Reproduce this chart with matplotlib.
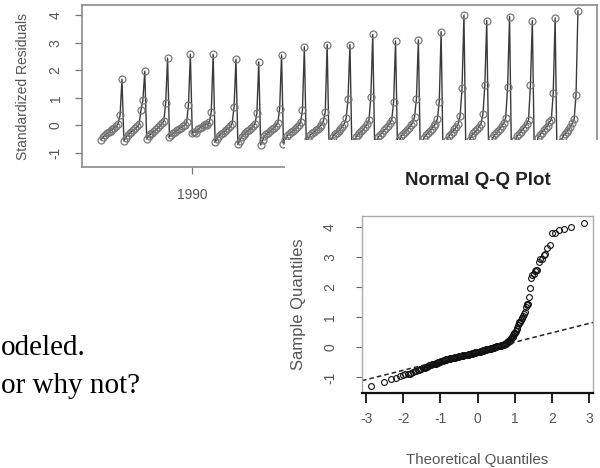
import numpy as np
import matplotlib
matplotlib.use("Agg")
import matplotlib.pyplot as plt
from matplotlib.patches import Rectangle
from statistics import NormalDist

# ---------------- data: monthly standardized residuals (Jan..Dec) ----------------
start_year = 1986
r1986 = [-0.52, -0.44, -0.36, -0.30, -0.26, -0.21, -0.15, -0.09, -0.03, 0.05, 0.36, 1.67]
r1987 = [-0.56, -0.45, -0.35, -0.30, -0.24, -0.18, -0.11, -0.04, 0.03, 0.55, 0.90, 1.96]
r1988 = [-0.50, -0.40, -0.33, -0.27, -0.21, -0.15, -0.08, 0.00, 0.07, 0.14, 0.80, 2.44]
r1989 = [-0.42, -0.34, -0.29, -0.24, -0.19, -0.14, -0.09, -0.04, 0.01, 0.10, 0.73, 2.58]
r1990 = [-0.30, -0.24, -0.27, -0.15, -0.10, -0.06, 0.00, 0.04, 0.02, 0.12, 0.48, 2.58]
r1991 = [-0.62, -0.50, -0.38, -0.32, -0.27, -0.22, -0.16, -0.10, -0.03, 0.06, 0.66, 2.40]
r1992 = [-0.70, -0.56, -0.42, -0.34, -0.28, -0.22, -0.16, -0.10, -0.02, 0.04, 0.43, 2.30]
r1993 = [-0.72, -0.55, -0.40, -0.33, -0.27, -0.21, -0.15, -0.09, -0.02, 0.07, 0.60, 2.55]
r1994 = [-0.68, -0.52, -0.38, -0.31, -0.26, -0.20, -0.14, -0.07, 0.00, 0.10, 0.55, 2.85]
r1995 = [-0.64, -0.50, -0.36, -0.30, -0.25, -0.19, -0.13, -0.06, 0.02, 0.15, 0.48, 2.93]
r1996 = [-0.76, -0.58, -0.41, -0.33, -0.27, -0.20, -0.13, -0.05, 0.05, 0.25, 0.97, 2.93]
r1997 = [-0.84, -0.62, -0.44, -0.35, -0.28, -0.21, -0.14, -0.06, 0.03, 0.18, 1.03, 3.30]
r1998 = [-0.80, -0.60, -0.42, -0.34, -0.27, -0.19, -0.11, -0.03, 0.07, 0.20, 0.85, 3.06]
r1999 = [-0.74, -0.55, -0.39, -0.31, -0.24, -0.17, -0.10, -0.01, 0.09, 0.30, 0.97, 3.10]
r2000 = [-0.90, -0.66, -0.46, -0.36, -0.28, -0.21, -0.13, -0.04, 0.06, 0.22, 0.85, 3.40]
r2001 = [-1.16, -0.87, -0.54, -0.40, -0.31, -0.23, -0.15, -0.06, 0.05, 0.35, 1.34, 4.00]
r2002 = [-1.02, -0.78, -0.52, -0.38, -0.30, -0.22, -0.14, -0.05, 0.06, 0.40, 1.45, 3.80]
r2003 = [-0.95, -0.72, -0.48, -0.36, -0.28, -0.20, -0.12, -0.03, 0.08, 0.28, 1.40, 3.95]
r2004 = [-1.06, -0.82, -0.55, -0.40, -0.31, -0.23, -0.15, -0.06, 0.04, 0.18, 1.45, 3.80]
r2005 = [-0.88, -0.68, -0.47, -0.35, -0.27, -0.19, -0.11, -0.02, 0.10, 0.20, 1.17, 3.90]
r2006 = [-1.30, -0.93, -0.60, -0.42, -0.32, -0.24, -0.16, -0.06, 0.07, 0.22, 1.10, 4.15]

top_yticks = [-1, 0, 1, 2, 3, 4]
top_xticks = [1990]          # later year ticks are covered by the inset
qq_xticks = [-3, -2, -1, 0, 1, 2, 3]
qq_yticks = [-1, 0, 1, 2, 3, 4]
side_text_1 = "odeled."
side_text_2 = "or why not?"

residuals = np.concatenate([r1986, r1987, r1988, r1989, r1990, r1991, r1992,
                            r1993, r1994, r1995, r1996, r1997, r1998, r1999,
                            r2000, r2001, r2002, r2003, r2004, r2005, r2006])
n = len(residuals)
times = start_year + np.arange(n) / 12.0

# ---------------- figure ----------------
W, H = 600, 468
fig = plt.figure(figsize=(W / 100, H / 100), dpi=100)
plt.rcParams['font.family'] = ['Liberation Sans', 'DejaVu Sans']

def fx(px):
    return px / W

def fy(py):
    return 1 - py / H

gray_txt = '#555555'

# ---- top: standardized residuals time series ----
ax1 = fig.add_axes([fx(82), fy(167), (597 - 82) / W, (167 - 5) / H])
ax1.plot(times, residuals, '-', color='#3a3a3a', lw=1.0, zorder=2)
ax1.plot(times, residuals, 'o', ms=5.0, mfc='none', mec='#777777', mew=0.9, zorder=3)
xr = times[-1] - times[0]
ax1.set_xlim(times[0] - 0.04 * xr, times[-1] + 0.04 * xr)
yr = residuals.max() - residuals.min()
ax1.set_ylim(residuals.min() - 0.04 * yr, residuals.max() + 0.04 * yr)
ax1.set_yticks(top_yticks)
ax1.set_yticklabels([str(v) for v in top_yticks], rotation=90, va='center')
ax1.set_xticks(top_xticks)
ax1.set_xticklabels([str(v) for v in top_xticks])
ax1.tick_params(direction='out', length=5, width=0.9, color='#777777',
                labelcolor=gray_txt, labelsize=10)
ax1.tick_params(axis='y', pad=9)
ax1.tick_params(axis='x', pad=10)
for s in ax1.spines.values():
    s.set_color('#8a8a8a')
    s.set_linewidth(1.2)
ax1.set_ylabel('Standardized Residuals', fontsize=10, color=gray_txt, va='center')
ax1.yaxis.set_label_coords((23 - 82) / (597 - 82), 0.5)

# ---- white patch under the inset Q-Q plot ----
fig.add_artist(Rectangle((fx(285), 0), 1 - fx(285), fy(140), transform=fig.transFigure,
                         facecolor='white', edgecolor='none', zorder=5))

# ---- Q-Q plot ----
sample = np.sort(residuals)
nd = NormalDist()
theo = np.array([nd.inv_cdf((i + 0.5) / n) for i in range(n)])
ax2 = fig.add_axes([fx(362), fy(393), (593 - 362) / W, (393 - 216) / H], zorder=10)
ax2.set_facecolor('white')
ax2.plot(theo, sample, 'o', ms=4.2, mfc='none', mec='#111111', mew=0.8)
y1, y3 = np.quantile(residuals, [0.25, 0.75])
x1, x3 = nd.inv_cdf(0.25), nd.inv_cdf(0.75)
slope = (y3 - y1) / (x3 - x1)
ax2.axline((x1, y1), slope=slope, ls=(0, (3, 2)), color='#222222', lw=1.1)
tr = theo[-1] - theo[0]
ax2.set_xlim(theo[0] - 0.04 * tr, theo[-1] + 0.04 * tr)
sr = sample[-1] - sample[0]
ax2.set_ylim(sample[0] - 0.04 * sr, sample[-1] + 0.04 * sr)
ax2.set_xticks(qq_xticks)
ax2.set_xticklabels([str(v) for v in qq_xticks])
ax2.set_yticks(qq_yticks)
ax2.set_yticklabels([str(v) for v in qq_yticks], rotation=90, va='center')
ax2.tick_params(direction='out', color='#666666', labelcolor=gray_txt, labelsize=10)
ax2.tick_params(axis='x', length=7, width=1.3, color='#111111', pad=7)
ax2.tick_params(axis='y', length=4, width=0.8, pad=14)
for k, s in ax2.spines.items():
    s.set_color('#aaaaaa')
    s.set_linewidth(1.0)
ax2.spines['bottom'].set_color('#111111')
ax2.spines['bottom'].set_linewidth(1.6)
ax2.set_title('Normal Q-Q Plot', fontsize=13.5, fontweight='bold', color='#222222', pad=22)
ax2.set_xlabel('Theoretical Quantiles', fontsize=10.8, color=gray_txt, va='center')
ax2.xaxis.set_label_coords(0.5, (393 - 460) / (393 - 216))
ax2.set_ylabel('Sample Quantiles', fontsize=12, color=gray_txt, va='center')
ax2.yaxis.set_label_coords((298 - 362) / (593 - 362), 0.5)

# ---- surrounding document text ----
fig.text(fx(1), fy(355), side_text_1, family=['Liberation Serif', 'DejaVu Serif'],
         fontsize=21, ha='left', va='baseline', color='black', zorder=6)
fig.text(fx(1), fy(393), side_text_2, family=['Liberation Serif', 'DejaVu Serif'],
         fontsize=21, ha='left', va='baseline', color='black', zorder=6)

fig.savefig('out.png', dpi=100)
